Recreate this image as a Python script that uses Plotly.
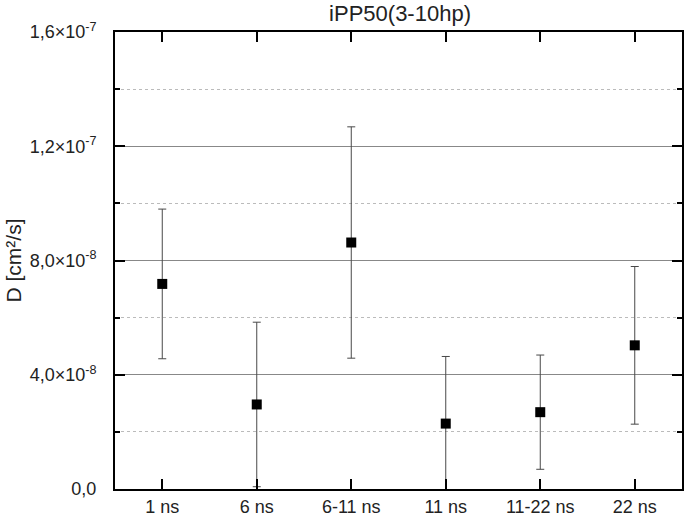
import plotly.graph_objects as go

labels = ['1 ns', '6 ns', '6-11 ns', '11 ns', '11-22 ns', '22 ns']
D = [7.18e-8, 2.96e-8, 8.63e-8, 2.29e-8, 2.69e-8, 5.03e-8]
D_err = [2.62e-8, 2.88e-8, 4.05e-8, 2.35e-8, 2.0e-8, 2.76e-8]

ytick_vals = [0, 4e-8, 8e-8, 1.2e-7, 1.6e-7]
ytick_text = ['0,0', '4,0×10<sup>-8</sup>', '8,0×10<sup>-8</sup>',
              '1,2×10<sup>-7</sup>', '1,6×10<sup>-7</sup>']

fig = go.Figure()
fig.add_trace(go.Scatter(
    x=list(range(len(labels))), y=D, mode='markers',
    marker=dict(symbol='square', size=10, color='black'),
    error_y=dict(type='data', array=D_err, visible=True,
                 color='#484848', thickness=1, width=4),
    cliponaxis=True, showlegend=False))

fig.update_layout(
    width=685, height=517,
    margin=dict(l=115, r=3, t=32, b=28, autoexpand=False),
    paper_bgcolor='white', plot_bgcolor='white',
    font=dict(family='Liberation Sans, Arial', size=18, color='#222'),
    title=dict(text='iPP50(3-10hp)', x=0.584, xanchor='center',
               y=0.975, yanchor='middle', font=dict(size=22)),
)
fig.update_xaxes(
    range=[-0.5, 5.5], tickmode='array', automargin=False,
    tickvals=list(range(len(labels))), ticktext=labels,
    ticks='inside', ticklen=10, tickwidth=1.5, tickcolor='black',
    showline=True, linecolor='black', linewidth=2, mirror='ticks',
    showgrid=False, zeroline=False, ticklabelstandoff=0)
fig.update_yaxes(
    range=[0, 1.6e-7], tickmode='array', automargin=False,
    tickvals=ytick_vals, ticktext=ytick_text,
    ticks='inside', ticklen=10, tickwidth=1.5, tickcolor='black',
    showline=True, linecolor='black', linewidth=2, mirror='ticks',
    showgrid=True, gridcolor='#888', gridwidth=1, zeroline=False,
    minor=dict(tickvals=[2e-8, 6e-8, 1e-7, 1.4e-7], ticks='inside',
               ticklen=5, tickwidth=1.5, tickcolor='black',
               showgrid=True, gridcolor='#bbb', gridwidth=1, griddash='dot'),
    ticklabelstandoff=13,
    title=dict(text='D [cm²/s]', font=dict(size=21), standoff=2))

fig.write_html('out.html', config={'displayModeBar': False},
               post_script="document.body.style.margin='0';")
